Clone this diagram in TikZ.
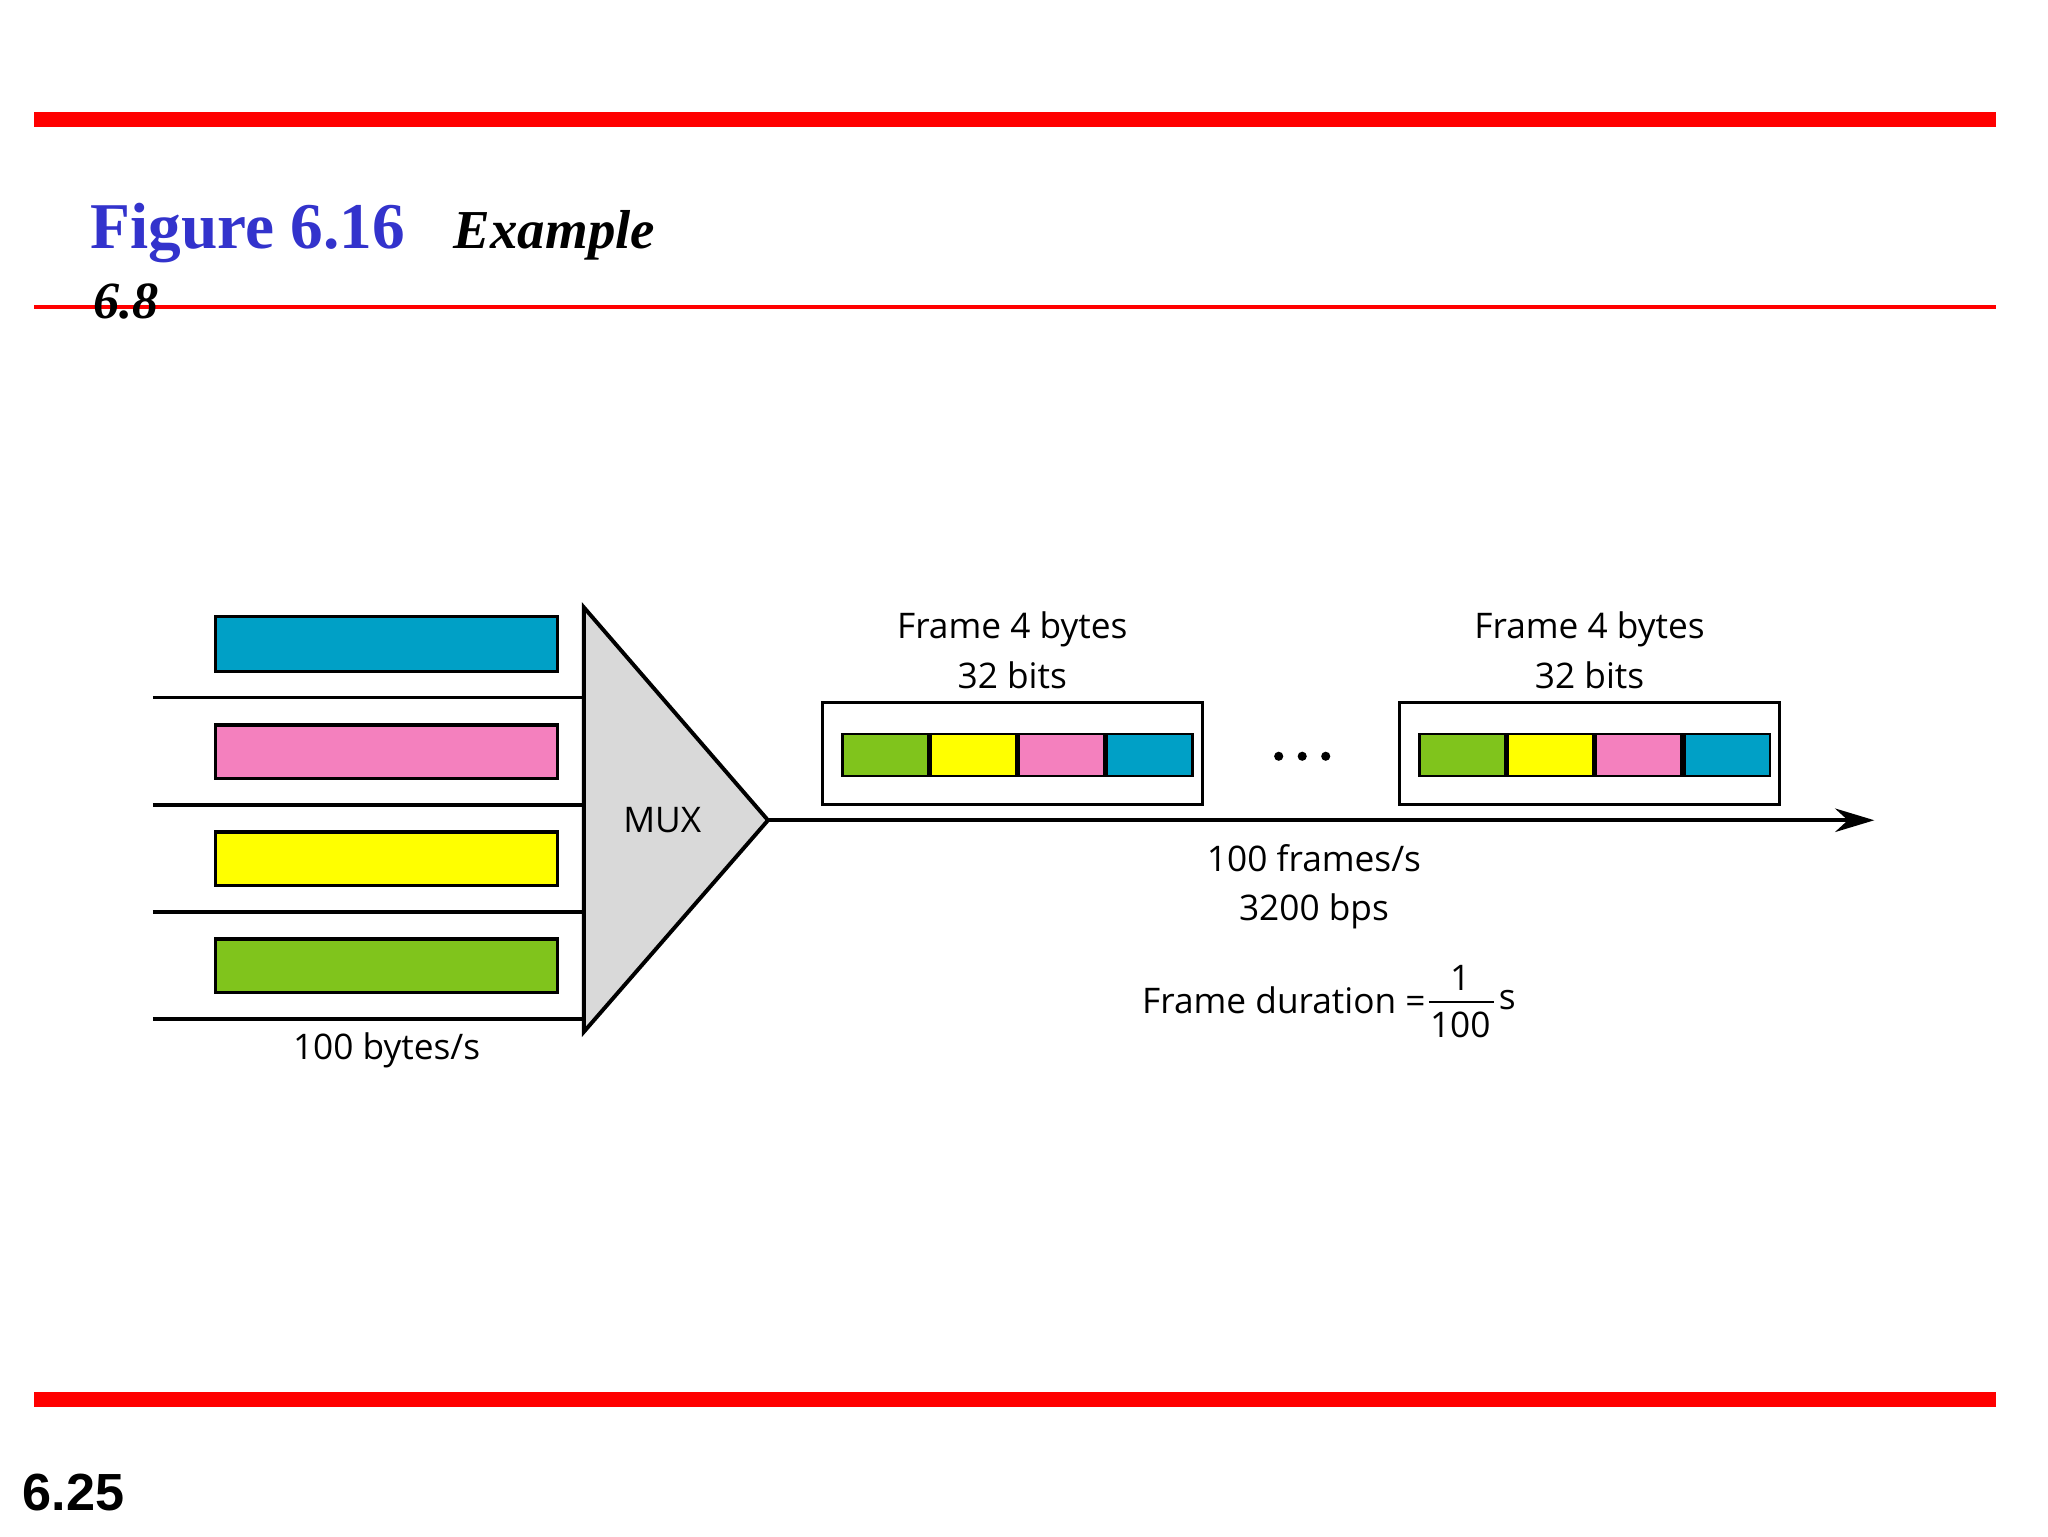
\documentclass[tikz,border=0pt]{standalone}
\usepackage{fontspec}
\setmainfont{Liberation Serif}
\setsansfont{Open Sans}
\usetikzlibrary{arrows.meta}
\definecolor{cb}{HTML}{00A0C6}
\definecolor{cp}{HTML}{F480BE}
\definecolor{cy}{HTML}{FFFF00}
\definecolor{cg}{HTML}{80C41C}
\definecolor{tblue}{HTML}{3333CC}
\begin{document}
\begin{tikzpicture}[x=1pt,y=-1pt,line width=3pt,
  lbl/.style={font=\sffamily\fontsize{27}{32}\selectfont,inner sep=0},
  bar/.style={draw,line width=2.5pt},
  cell/.style={draw,line width=2pt,minimum width=65.5pt,minimum height=32pt,inner sep=0,anchor=west},
  fbox/.style={draw,line width=2pt,minimum width=291pt,minimum height=78pt,inner sep=0}]
\useasboundingbox (0,0) rectangle (1568,1176);
\fill[red] (26,86) rectangle (1528,97);
\fill[red] (26,233.5) rectangle (1528,236.5);
\fill[red] (26,1066) rectangle (1528,1077);
\node[anchor=base west,inner sep=0,text=tblue,font=\bfseries\fontsize{50}{56}\selectfont] (ft) at (68,190) {Figure 6.16};
\node[anchor=base west,inner sep=0,font=\bfseries\itshape\fontsize{42}{46}\selectfont] (ex) at (346,190) {Example};
\node[anchor=base west,inner sep=0,font=\bfseries\itshape\fontsize{40}{46}\selectfont] (ex2) at (70,244) {6.8};
\node[anchor=west,inner sep=0,font=\fontspec{Liberation Sans}\bfseries\fontsize{40}{44}\selectfont] (pg) at (16,1143) {6.25};
% input bars
\draw[bar,fill=cb] (165,472) rectangle (427,514);
\draw[bar,fill=cp] (165,555) rectangle (427,596);
\draw[bar,fill=cy] (165,637) rectangle (427,678);
\draw[bar,fill=cg] (165,719) rectangle (427,760);
\foreach \y in {534,616,698,780} \draw (117,\y) -- (447,\y);
\draw[fill={rgb,255:red,217;green,217;blue,217},line join=miter] (447,465) -- (588,628) -- (447,790) -- cycle;
\coordinate (mo) at (588,628);
\coordinate (end) at (1435,628);
\node[lbl] (mux) at (507,628) {MUX};
\draw[-{Stealth[length=30pt,width=18pt]}] (mo) -- (end);
% frames
\foreach \n/\x in {a/775,b/1217}{
  \node[fbox] (f\n) at (\x,577) {};
  \node[cell,fill=cg] (g\n) at (\x-131,578) {};
  \node[cell,fill=cy] (y\n) at (g\n.east) {};
  \node[cell,fill=cp] (p\n) at (y\n.east) {};
  \node[cell,fill=cb] (b\n) at (p\n.east) {};
  \node[lbl,align=center] (t\n) at (\x,498) {Frame 4 bytes\\[6pt]32 bits};
}
\foreach \i/\x in {1/979,2/997,3/1015} \fill (\x,579) circle (3.5pt);
\node[lbl,align=center] (rate) at (1006,679) {100 frames/s\\[6pt]3200 bps};
\node[lbl,anchor=east] (dur) at (1093,766) {Frame duration =};
\node[lbl] (num) at (1118,749) {1};
\node[lbl] (den) at (1118,785) {100};
\draw[line width=1.5pt] (1094,767) -- (1144,767);
\node[lbl] (su) at (1154,766) {s};
\node[lbl] (bps) at (296,804) {100 bytes/s};
\end{tikzpicture}
\end{document}
